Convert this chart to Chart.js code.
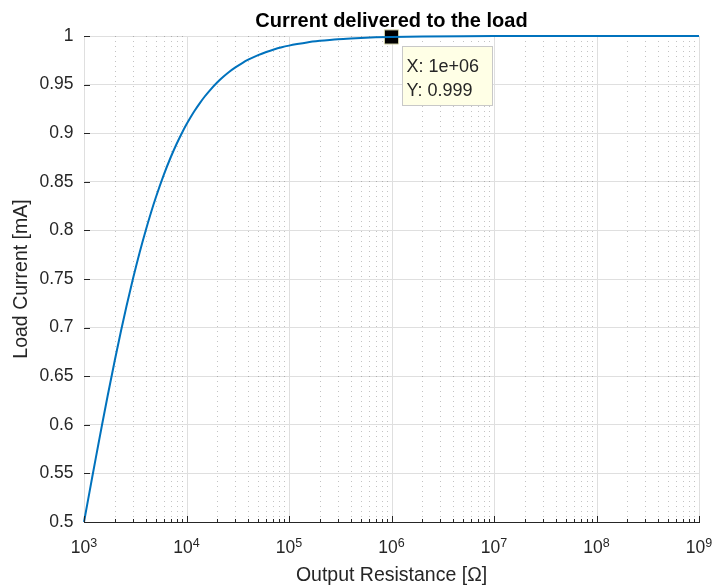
<!DOCTYPE html>
<html>
<head>
<meta charset="utf-8">
<script src="https://cdn.jsdelivr.net/npm/chart.js@4"></script>
<style>
  html, body { margin: 0; padding: 0; background: #fff; }
  #wrap { width: 712px; height: 588px; }
</style>
</head>
<body>
<div id="wrap"><canvas id="grafico" width="712" height="588"></canvas></div>
<script>
// valores
const resistance = [1e3, 1.1e3, 1.2e3, 1.3e3, 1.4e3, 1.5e3, 1.7e3, 2e3, 2.3e3, 2.6e3, 3e3, 3.5e3, 4e3, 4.5e3, 5e3, 6e3, 7e3, 8e3, 9e3,
  1e4, 1.1e4, 1.2e4, 1.35e4, 1.5e4, 1.7e4, 2e4, 2.3e4, 2.6e4, 3e4, 3.5e4, 4e4, 5e4, 6e4, 7e4, 8.5e4, 1e5, 1.2e5, 1.5e5, 2e5, 2.5e5, 3e5, 4e5, 5e5, 7e5,
  1e6, 2e6, 5e6, 1e7, 1e8, 1e9];
const loadCurrent = [0.5, 0.5238, 0.5455, 0.5652, 0.5833, 0.6, 0.6296, 0.6667, 0.697, 0.7222, 0.75, 0.7778, 0.8, 0.8182, 0.8333, 0.8571, 0.875, 0.8889, 0.9,
  0.9091, 0.9167, 0.9231, 0.931, 0.9375, 0.9444, 0.9524, 0.9583, 0.963, 0.9677, 0.9722, 0.9756, 0.9804, 0.9836, 0.9859, 0.9884, 0.9901, 0.9917, 0.9934, 0.995, 0.996, 0.9967, 0.9975, 0.998, 0.9986,
  0.999, 0.9995, 0.9998, 0.9999, 1.0, 1.0];
const tipX = [1e6];
const tipY = [0.999];
const xExponents = [3, 4, 5, 6, 7, 8, 9];

const FONT = '"Liberation Sans", Arial, Helvetica, sans-serif';
const TXT = '#262626';

// grade, marcas e rótulos no estilo MATLAB
const matlabAxes = {
  id: 'matlabAxes',
  beforeDatasetsDraw(chart) {
    const c = chart.ctx, xs = chart.scales.x, a = chart.chartArea;
    c.save();
    c.lineWidth = 1;
    // grade menor pontilhada
    c.strokeStyle = 'rgba(38,38,38,0.28)';
    c.setLineDash([1, 4]);
    for (let e = xExponents[0]; e < xExponents[xExponents.length - 1]; e++) {
      for (let m = 2; m <= 9; m++) {
        const px = Math.round(xs.getPixelForValue(m * Math.pow(10, e))) + 0.5;
        c.beginPath(); c.moveTo(px, a.top); c.lineTo(px, a.bottom); c.stroke();
      }
    }
    c.setLineDash([]);
    // grade maior
    c.strokeStyle = '#dfdfdf';
    xExponents.forEach(e => {
      const px = Math.round(xs.getPixelForValue(Math.pow(10, e))) + 0.5;
      c.beginPath(); c.moveTo(px, a.top); c.lineTo(px, a.bottom); c.stroke();
    });
    c.restore();
  },
  afterDatasetsDraw(chart) {
    const c = chart.ctx, xs = chart.scales.x, ys = chart.scales.y, a = chart.chartArea;
    c.save();
    c.strokeStyle = TXT;
    c.lineWidth = 1;
    // marcas para dentro
    ys.ticks.forEach(t => {
      const py = Math.round(ys.getPixelForValue(t.value)) + 0.5;
      c.beginPath(); c.moveTo(a.left, py); c.lineTo(a.left + 6, py); c.stroke();
    });
    for (let e = xExponents[0]; e <= xExponents[xExponents.length - 1]; e++) {
      for (let m = 1; m <= 9; m++) {
        if (e === xExponents[xExponents.length - 1] && m > 1) break;
        const px = Math.round(xs.getPixelForValue(m * Math.pow(10, e))) + 0.5;
        const len = m === 1 ? 6 : 3;
        c.beginPath(); c.moveTo(px, a.bottom); c.lineTo(px, a.bottom - len); c.stroke();
      }
    }
    // rótulos 10^n
    c.fillStyle = TXT;
    c.textBaseline = 'alphabetic';
    c.textAlign = 'left';
    xExponents.forEach(e => {
      const px = xs.getPixelForValue(Math.pow(10, e));
      c.font = '17.5px ' + FONT;
      const w1 = c.measureText('10').width;
      c.font = '12.5px ' + FONT;
      const w2 = c.measureText(String(e)).width;
      const x0 = px - (w1 + w2) / 2;
      c.font = '17.5px ' + FONT;
      c.fillText('10', x0, 553);
      c.font = '12.5px ' + FONT;
      c.fillText(String(e), x0 + w1, 546.5);
    });
    // caixa do datatip
    const mx = xs.getPixelForValue(tipX[0]), my = ys.getPixelForValue(tipY[0]);
    const bx = Math.round(mx + 10) + 0.5, by = Math.round(my + 9) + 0.5;
    c.fillStyle = '#ffffe6';
    c.strokeStyle = '#c8c8c8';
    c.fillRect(bx, by, 90, 59);
    c.strokeRect(bx, by, 90, 59);
    c.fillStyle = TXT;
    c.font = '18px ' + FONT;
    c.fillText('X: 1e+06', mx + 15, my + 35);
    c.fillText('Y: ' + tipY[0], mx + 15, my + 59);
    c.restore();
  },
  afterDraw(chart) {
    const c = chart.ctx, a = chart.chartArea;
    c.save();
    c.fillStyle = '#000';
    c.font = 'bold 20px ' + FONT;
    c.textAlign = 'center';
    c.textBaseline = 'alphabetic';
    c.fillText('Current delivered to the load', (a.left + a.right) / 2, 26.5);
    c.restore();
  }
};

const ctx = document.getElementById('grafico').getContext('2d');
const grafico = new Chart(ctx, {
  type: 'line',
  data: {
    datasets: [{
      label: 'Load Current',
      data: resistance.map((r, i) => ({ x: r, y: loadCurrent[i] })),
      borderColor: '#0072BD',
      borderWidth: 2,
      pointRadius: 0,
      cubicInterpolationMode: 'monotone',
      fill: false,
      clip: false
    }, {
      label: 'Datatip',
      data: tipX.map((r, i) => ({ x: r, y: tipY[i] })),
      showLine: false,
      pointStyle: 'rect',
      pointRadius: 10,
      backgroundColor: '#000',
      borderColor: '#d2d2a8',
      borderWidth: 1,
      clip: false
    }]
  },
  options: {
    responsive: false,
    animation: false,
    events: [],
    layout: { padding: { top: 36, left: 6, right: 13, bottom: 0 } },
    plugins: { legend: { display: false }, tooltip: { enabled: false }, title: { display: false } },
    scales: {
      x: {
        type: 'logarithmic',
        min: 1e3,
        max: 1e9,
        afterFit: s => { s.height = 66; },
        grid: { display: false },
        border: { display: true, color: TXT, width: 1 },
        ticks: { display: false },
        title: {
          display: true,
          text: 'Output Resistance [Ω]',
          color: TXT,
          font: { family: FONT, size: 19.5 },
          padding: { top: 4, bottom: 1 }
        }
      },
      y: {
        min: 0.5,
        max: 1,
        afterFit: s => { s.width = 78; },
        grid: { color: '#dfdfdf', drawTicks: false },
        border: { display: true, color: TXT, width: 1 },
        ticks: {
          stepSize: 0.05,
          color: TXT,
          padding: 10.5,
          font: { family: FONT, size: 17.5 },
          callback: v => String(Number(v.toFixed(2)))
        },
        title: {
          display: true,
          text: 'Load Current [mA]',
          color: TXT,
          font: { family: FONT, size: 19.5 },
          padding: { top: 4, bottom: 4 }
        }
      }
    }
  },
  plugins: [matlabAxes]
});
</script>
</body>
</html>
